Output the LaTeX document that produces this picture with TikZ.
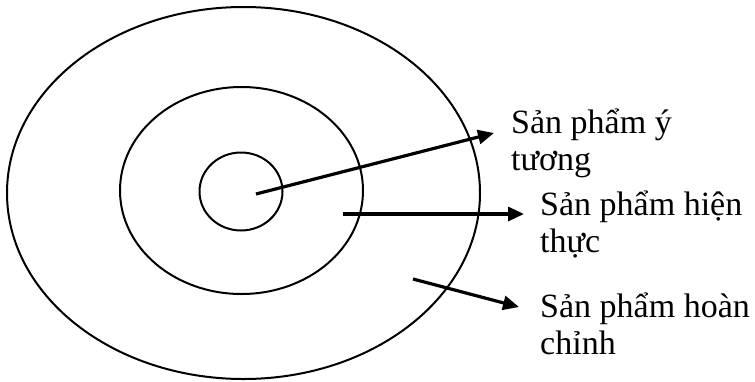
\documentclass[tikz,border=0pt]{standalone}
\usepackage{fontspec}
\setmainfont{Liberation Serif}
\usetikzlibrary{shapes.geometric,arrows.meta}
\tikzset{
    ring/.style={draw, ellipse, line width=2pt, inner sep=0pt},
    textlbl/.style={anchor=base west, align=left, inner sep=0pt, font=\fontsize{34}{37}\selectfont},
    pointer/.style={-{Triangle[length=16pt,width=14pt]}, line width=3.2pt}
}
\begin{document}
\begin{tikzpicture}[x=1pt,y=-1pt]
    \useasboundingbox (0,0) rectangle (755,381);

    % Rings
    \node[ring, minimum width=473pt, minimum height=372pt] (outer) at (243.5,193) {};
    \node[ring, minimum width=243pt, minimum height=207pt] (middle) at (241.5,190.5) {};
    \node[ring, minimum width=83pt, minimum height=78pt] (inner) at (241,191.5) {};

    % Labels (base = last line)
    \node[textlbl] (idea) at (511,170) {Sản phẩm ý\\tương};
    \node[textlbl] (real) at (540,252) {Sản phẩm hiện\\thực};
    \node[textlbl] (full) at (540,354) {Sản phẩm hoàn\\chỉnh};

    % Arrows
    \coordinate (ideaS) at (256,194);
    \coordinate (realS) at (343,214);
    \coordinate (fullS) at (413,279);
    \coordinate (ideaT) at (494,133);
    \coordinate (realT) at (524,214);
    \coordinate (fullT) at (519,307);
    \draw[pointer] (ideaS) -- (ideaT);
    \draw[pointer] (realS) -- (realT);
    \draw[pointer] (fullS) -- (fullT);
\end{tikzpicture}
\end{document}
